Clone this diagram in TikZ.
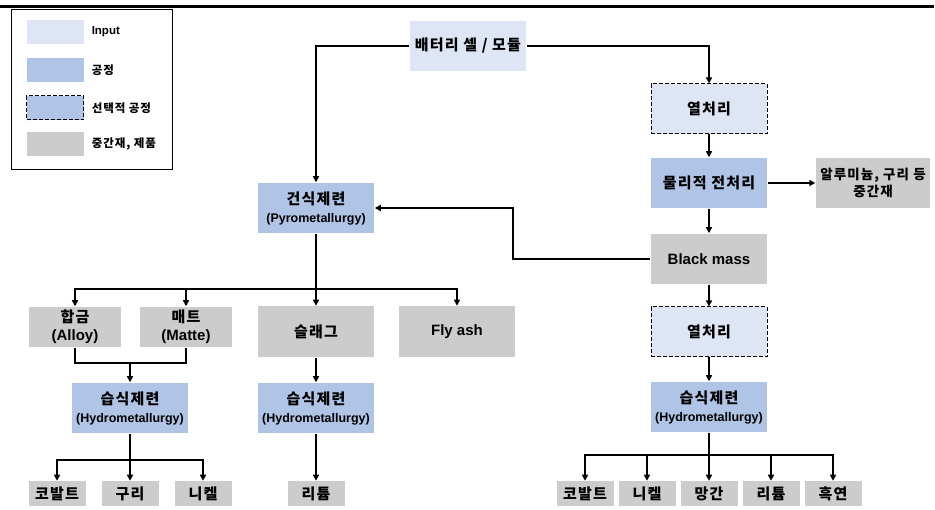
\documentclass[tikz,border=0pt]{standalone}
\usepackage{fontspec}
\setmainfont{Liberation Sans}
\newfontfamily\krfont{Noto Sans CJK KR}[LetterSpace=8]
\usetikzlibrary{arrows.meta}
\definecolor{inputblue}{RGB}{222,230,246}
\definecolor{procblue}{RGB}{176,196,230}
\definecolor{midgray}{RGB}{204,204,204}
\newcommand{\kor}[1]{{\krfont\bfseries #1}}
\newcommand{\subline}[1]{{\fontsize{12.5}{14}\selectfont #1}}

\begin{document}
\begin{tikzpicture}[x=1pt, y=-1pt, line width=1.5pt,
  arr/.style={-{Triangle[length=6pt,width=6pt]}},
  box/.style={minimum width=116pt, minimum height=50pt, inner sep=0pt, align=center, font=\fontsize{15}{18}\selectfont\bfseries},
  inbox/.style={box, fill=inputblue},
  procbox/.style={box, fill=procblue},
  optbox/.style={box, fill=inputblue, draw, line width=1pt, dash pattern=on 4pt off 2pt},
  midbox/.style={box, fill=midgray},
  endbox/.style={midbox, minimum width=57pt, minimum height=25pt},
  swatch/.style={minimum width=57pt, minimum height=24pt, inner sep=0pt},
  legtxt/.style={anchor=west, inner sep=0pt, font=\fontsize{11.5}{13}\selectfont\bfseries}]
\useasboundingbox (0,0) rectangle (935,510);
\draw[line width=3pt] (0,6.5) -- (934,6.5);

% legend
\draw[line width=1pt] (11,10) rectangle (172,170);
\node[swatch, fill=inputblue] (lgin) at (55,32) {};
\node[swatch, fill=procblue] (lgproc) at (55,70) {};
\node[swatch, fill=procblue, draw, line width=1pt, dash pattern=on 4pt off 2pt] (lgopt) at (55,108) {};
\node[swatch, fill=midgray] (lgmid) at (55,144) {};
\node[legtxt] (lgintxt) at (91,32) {Input};
\node[legtxt] (lgproctxt) at (91,70) {\kor{공정}};
\node[legtxt] (lgopttxt) at (91,108) {\kor{선택적 공정}};
\node[legtxt] (lgmidtxt) at (91,144) {\kor{중간재, 제품}};

% right column
\node[inbox] (cell) at (468,46) {\kor{배터리 셀 / 모듈}};
\node[optbox] (heat) at (709,109) {\kor{열처리}};
\node[procbox] (phys) at (709,183) {\kor{물리적 전처리}};
\node[midbox, minimum width=114pt, font=\fontsize{13.5}{17}\selectfont\bfseries] (alu) at (873,183) {\kor{알루미늄, 구리 등}\\\kor{중간재}};
\node[midbox] (bmass) at (709,259) {Black mass};
\node[optbox] (heattwo) at (709,332) {\kor{열처리}};
\node[procbox] (hydrothree) at (709,407) {\kor{습식제련}\\\subline{(Hydrometallurgy)}};
\node[endbox] (cobalttwo) at (585,494) {\kor{코발트}};
\node[endbox] (nickeltwo) at (647,494) {\kor{니켈}};
\node[endbox] (mangan) at (709,494) {\kor{망간}};
\node[endbox] (lithiumtwo) at (771,494) {\kor{리튬}};
\node[endbox] (graphite) at (833,494) {\kor{흑연}};

% left part
\node[procbox] (pyro) at (316,208) {\kor{건식제련}\\\subline{(Pyrometallurgy)}};
\node[midbox, minimum width=92pt, minimum height=40pt] (alloy) at (75,327) {\kor{합금}\\(Alloy)};
\node[midbox, minimum width=92pt, minimum height=40pt] (matte) at (186,327) {\kor{매트}\\(Matte)};
\node[midbox, minimum height=51pt] (slag) at (316,332) {\kor{슬래그}};
\node[midbox, minimum height=51pt] (flyash) at (457,332) {Fly ash};
\node[procbox] (hydroone) at (130,408) {\kor{습식제련}\\\subline{(Hydrometallurgy)}};
\node[procbox] (hydrotwo) at (316,408) {\kor{습식제련}\\\subline{(Hydrometallurgy)}};
\node[endbox] (cobalt) at (57,494) {\kor{코발트}};
\node[endbox] (copper) at (130,494) {\kor{구리}};
\node[endbox] (nickel) at (203,494) {\kor{니켈}};
\node[endbox] (lithium) at (316,494) {\kor{리튬}};

\coordinate (bmbend) at (513,259);
\coordinate (pyrosplit) at (316,289);
\coordinate (amjoin) at (130,363);
\coordinate (hsplitone) at (130,460);
\coordinate (hsplitthree) at (709,455);

% connectors
\draw[arr] (cell) -| (pyro);
\draw[arr] (cell) -| (heat);
\draw[arr] (heat) -- (phys);
\draw[arr] (phys) -- (alu);
\draw[arr] (phys) -- (bmass);
\draw[arr] (bmass) -- (bmbend) |- (pyro);
\draw[arr] (bmass) -- (heattwo);
\draw[arr] (heattwo) -- (hydrothree);
\draw (hydrothree) -- (hsplitthree);
\foreach \n in {cobalttwo,nickeltwo,mangan,lithiumtwo,graphite}
  \draw[arr] (hsplitthree) -| (\n);

\draw (pyro) -- (pyrosplit);
\foreach \n in {alloy,matte,slag,flyash}
  \draw[arr] (pyrosplit) -| (\n);
\draw (alloy) |- (amjoin) -| (matte);
\draw[arr] (amjoin) -- (hydroone);
\draw (hydroone) -- (hsplitone);
\foreach \n in {cobalt,copper,nickel}
  \draw[arr] (hsplitone) -| (\n);
\draw[arr] (slag) -- (hydrotwo);
\draw[arr] (hydrotwo) -- (lithium);

\end{tikzpicture}
\end{document}
